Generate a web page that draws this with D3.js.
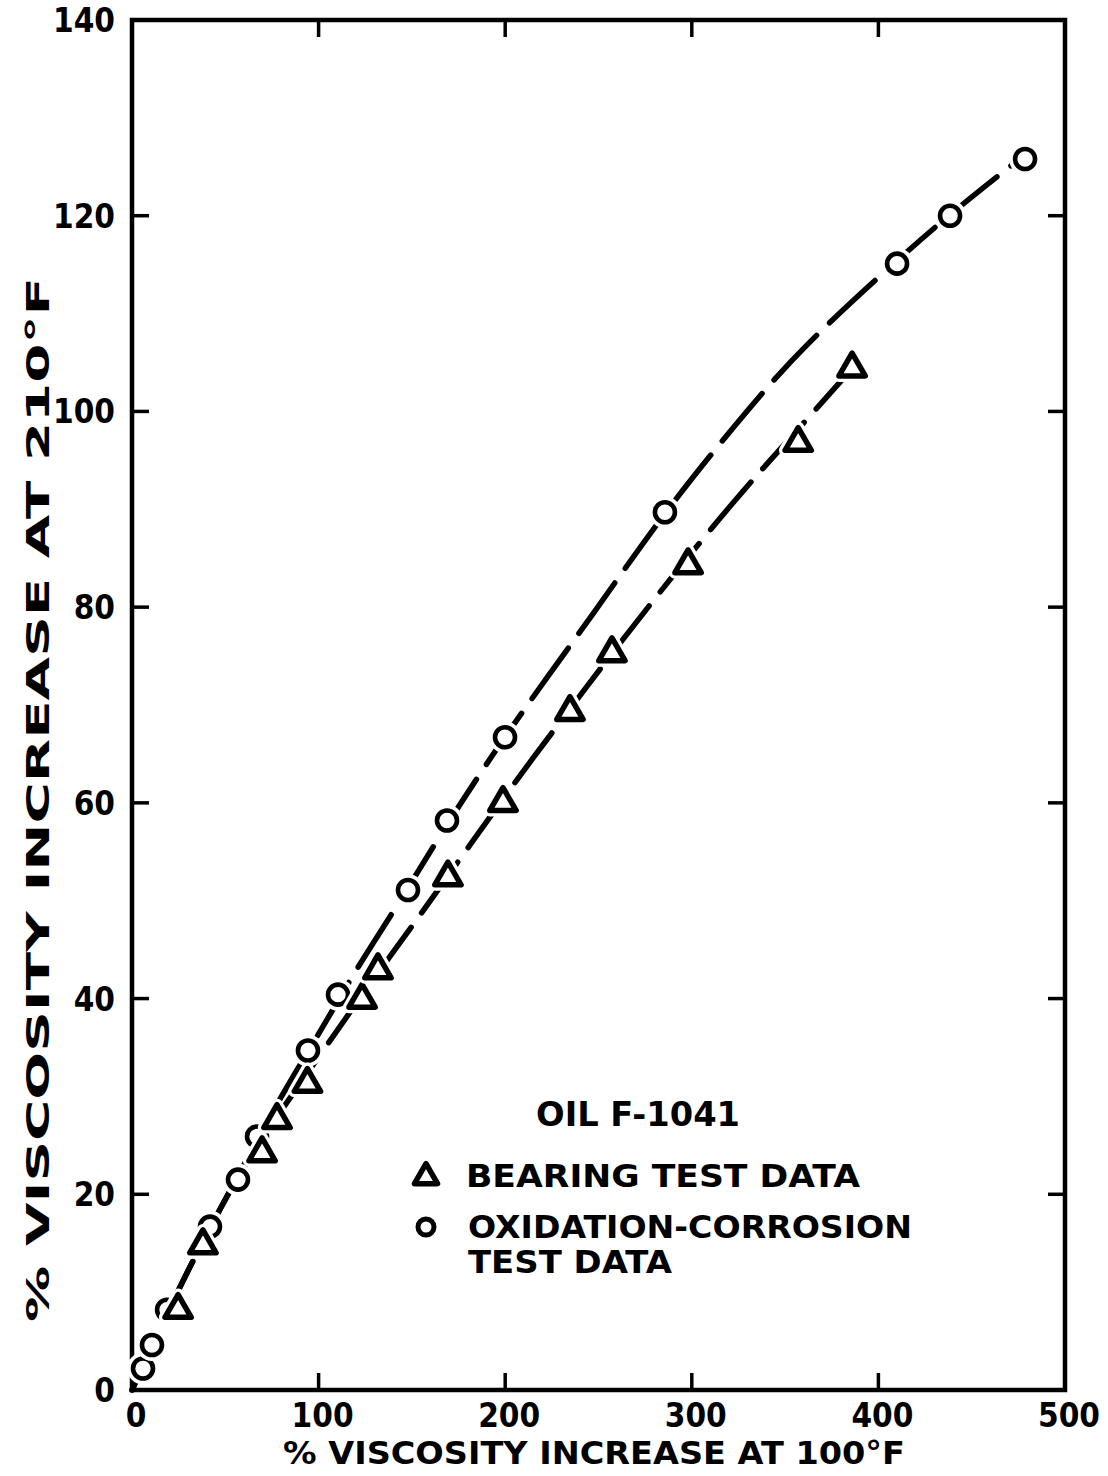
<!DOCTYPE html>
<html>
<head>
<meta charset="utf-8">
<script src="https://cdn.jsdelivr.net/npm/d3@7"></script>
<style>
  html, body { margin: 0; padding: 0; background: #fff; }
  svg { display: block; }
  text { font-family: "DejaVu Sans", sans-serif; font-weight: bold; fill: #000; }
  text.num { font-family: "DejaVu Sans Condensed", "DejaVu Sans", sans-serif; font-stretch: condensed; }
</style>
</head>
<body>
<svg id="chart" width="1108" height="1476"></svg>
<script>
// Oil F-1041: viscosity increase at 210°F versus at 100°F

// Oxidation-corrosion test data (circles)
const oxX = [5.9, 10.7, 18.8, 41.8, 56.8, 67, 94.3, 110.4, 147.9, 168.8, 199.9, 285.6, 410, 438.4, 478.6];
const oxY = [2.2, 4.6, 8.2, 16.7, 21.5, 25.9, 34.7, 40.4, 51.1, 58.2, 66.7, 89.7, 115.1, 120, 125.8];

// Bearing test data (triangles)
const brX = [24.7, 38, 69.7, 77.7, 94, 123.3, 131.8, 169.3, 198.8, 234.7, 257.2, 298, 357, 385.9];
const brY = [8.2, 14.8, 24.2, 27.6, 31.3, 39.9, 42.9, 52.4, 60, 69.3, 75.3, 84.3, 96.8, 104.4];

// Hand-faired curves through each data set
const oxFitX = [0, 20, 40, 60, 80, 100, 120, 142, 164, 200, 250, 285, 335, 362, 398, 437, 477];
const oxFitY = [0, 8.4, 16, 23, 30.1, 36.3, 43, 49.4, 56.4, 67, 80, 89.7, 101.4, 107, 113.4, 120, 126];
const brFitX = [0, 20, 40, 60, 80, 100, 117, 139, 163, 200, 226, 262, 289, 323, 358, 386];
const brFitY = [0, 8.4, 16, 23, 28.6, 34, 38.7, 44.5, 50.8, 60.8, 67.4, 76.5, 83, 91, 98.4, 104.4];

// Axis ticks
const xTicks = [0, 100, 200, 300, 400, 500];
const yTicks = [0, 20, 40, 60, 80, 100, 120, 140];

// Titles and legend
const xTitle = "% VISCOSITY INCREASE AT 100°F";
const yTitle = "% VISCOSITY INCREASE AT 210°F";
const oilLabel = "OIL F-1041";
const legendItems = [
  { kind: "triangle", lines: ["BEARING TEST DATA"] },
  { kind: "circle", lines: ["OXIDATION-CORROSION", "TEST DATA"] }
];

const svg = d3.select("#chart");
const x = d3.scaleLinear().domain([0, 500]).range([132, 1065]);
const y = d3.scaleLinear().domain([0, 140]).range([1390, 20]);

const tickLen = 17;

// inward ticks on all four sides
const axisG = svg.append("g");
const innerX = xTicks.filter(v => v > 0 && v < 500);
const innerY = yTicks.filter(v => v > 0 && v < 140);
const tickStyle = s => s.attr("stroke", "#000").attr("stroke-width", 3.5);
axisG.selectAll("line.xb").data(innerX).join("line").attr("class", "xb")
  .attr("x1", d => x(d)).attr("x2", d => x(d))
  .attr("y1", y(0)).attr("y2", y(0) - tickLen).call(tickStyle);
axisG.selectAll("line.xt").data(innerX).join("line").attr("class", "xt")
  .attr("x1", d => x(d)).attr("x2", d => x(d))
  .attr("y1", y(140)).attr("y2", y(140) + tickLen).call(tickStyle);
axisG.selectAll("line.yl").data(innerY).join("line").attr("class", "yl")
  .attr("y1", d => y(d)).attr("y2", d => y(d))
  .attr("x1", x(0)).attr("x2", x(0) + tickLen).call(tickStyle);
axisG.selectAll("line.yr").data(innerY).join("line").attr("class", "yr")
  .attr("y1", d => y(d)).attr("y2", d => y(d))
  .attr("x1", x(500)).attr("x2", x(500) - tickLen).call(tickStyle);

// frame
axisG.append("rect")
  .attr("x", x(0)).attr("y", y(140))
  .attr("width", x(500) - x(0)).attr("height", y(0) - y(140))
  .attr("fill", "none").attr("stroke", "#000").attr("stroke-width", 4.5);

// tick labels
svg.append("g").selectAll("text").data(xTicks).join("text")
  .attr("class", "num")
  .attr("x", d => x(d) + 4).attr("y", 1427)
  .attr("text-anchor", "middle")
  .attr("font-size", 33)
  .text(d => d);
svg.append("g").selectAll("text").data(yTicks).join("text")
  .attr("class", "num")
  .attr("x", 115).attr("y", d => y(d) + 12)
  .attr("text-anchor", "end")
  .attr("font-size", 33)
  .text(d => d);

// axis titles
svg.append("text")
  .attr("x", 283).attr("y", 1464)
  .attr("font-size", 32)
  .attr("textLength", 622).attr("lengthAdjust", "spacingAndGlyphs")
  .text(xTitle);
svg.append("text")
  .attr("transform", "translate(49,1322) rotate(-90)")
  .attr("font-size", 32)
  .attr("textLength", 1045).attr("lengthAdjust", "spacingAndGlyphs")
  .text(yTitle);

// faired curves
const line = d3.line().x(d => x(d[0])).y(d => y(d[1])).curve(d3.curveBasis);
const curves = [d3.zip(brFitX, brFitY), d3.zip(oxFitX, oxFitY)];
svg.append("g").selectAll("path").data(curves).join("path")
  .attr("d", line)
  .attr("fill", "none")
  .attr("stroke", "#000")
  .attr("stroke-width", 5.5)
  .attr("stroke-linecap", "round")
  .attr("stroke-dasharray", "62,18");

// markers
const triPath = d3.symbol(d3.symbolTriangle, 300)();
function drawMarkers(g, pts, kind, r) {
  const sel = g.selectAll("g").data(pts).join("g")
    .attr("transform", d => `translate(${d[0]},${d[1]})`);
  if (kind === "circle") {
    sel.append("circle").attr("r", r).attr("fill", "#fff")
      .attr("stroke", "#fff").attr("stroke-width", 12);
    sel.append("circle").attr("r", r).attr("fill", "#fff")
      .attr("stroke", "#000").attr("stroke-width", 4.6);
  } else {
    sel.append("path").attr("d", triPath).attr("fill", "#fff")
      .attr("stroke", "#fff").attr("stroke-width", 12).attr("stroke-linejoin", "round");
    sel.append("path").attr("d", triPath).attr("fill", "#fff")
      .attr("stroke", "#000").attr("stroke-width", 5.5).attr("stroke-linejoin", "round");
  }
}
const oxPts = d3.zip(oxX, oxY).map(d => [x(d[0]), y(d[1])]);
const brPts = d3.zip(brX, brY).map(d => [x(d[0]), y(d[1])]);
drawMarkers(svg.append("g"), oxPts, "circle", 10);
drawMarkers(svg.append("g"), brPts, "triangle");

// legend
const legend = svg.append("g");
legend.append("text")
  .attr("x", 536).attr("y", 1126)
  .attr("font-size", 33)
  .attr("textLength", 204).attr("lengthAdjust", "spacingAndGlyphs")
  .text(oilLabel);

const legendRows = [
  { kind: "triangle", mx: 426, my: 1177, tx: 466, ty: 1187, len: 394, text: legendItems[0].lines[0] },
  { kind: "circle", mx: 426, my: 1227, tx: 468, ty: 1238, len: 444, text: legendItems[1].lines[0] },
  { kind: null, tx: 468, ty: 1273, len: 204, text: legendItems[1].lines[1] }
];
legendRows.forEach(r => {
  if (r.kind === "triangle") {
    legend.append("path").attr("d", d3.symbol(d3.symbolTriangle, 230)())
      .attr("transform", `translate(${r.mx},${r.my})`)
      .attr("fill", "#fff").attr("stroke", "#000").attr("stroke-width", 5.5)
      .attr("stroke-linejoin", "round");
  } else if (r.kind === "circle") {
    legend.append("circle").attr("cx", r.mx).attr("cy", r.my).attr("r", 8)
      .attr("fill", "#fff").attr("stroke", "#000").attr("stroke-width", 5);
  }
  legend.append("text")
    .attr("x", r.tx).attr("y", r.ty)
    .attr("font-size", 32)
    .attr("textLength", r.len).attr("lengthAdjust", "spacingAndGlyphs")
    .text(r.text);
});
</script>
</body>
</html>
